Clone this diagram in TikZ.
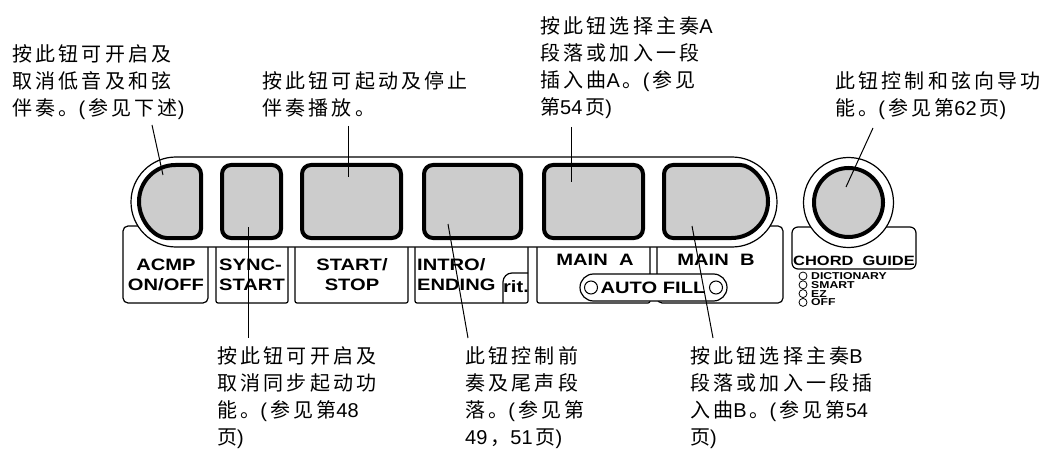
\documentclass[tikz,border=0pt]{standalone}
\usepackage{fontspec}
\setmainfont{Liberation Sans}
\newfontfamily\cjk{Noto Sans CJK SC}[LetterSpace=16]
\newfontfamily\panelfont{Liberation Sans}[FakeStretch=1.22]
\newcommand{\lat}[1]{{\rmfamily #1}\kern3pt}
\usepackage{tikz}
\usetikzlibrary{positioning, shapes.misc}
\definecolor{ButtonGray}{RGB}{204, 204, 204}

\begin{document}
\begin{tikzpicture}[
  x=1pt, y=-1pt,
  button/.style = {
    rectangle, rounded corners=9pt,
    minimum width=99pt, minimum height=73pt,
    inner sep=0pt, outer sep=0pt,
    draw, line width=4pt, fill=ButtonGray
  },
  dbutton/.style = {draw, line width=4pt, fill=ButtonGray},
  labelbox/.style = {draw, line width=1.2pt, fill=white},
  note/.style = {
    font=\fontsize{20}{27}\cjk, align=left,
    anchor=north west, inner sep=0pt
  },
  keytext/.style = {font=\panelfont\bfseries\fontsize{16.5}{20}\selectfont, inner sep=0pt},
  ledtext/.style = {font=\panelfont\bfseries\fontsize{10}{9}\selectfont, inner sep=0pt, anchor=west},
  leader/.style = {line width=1pt}
]
\useasboundingbox (0,0) rectangle (1049,449);

% Label boxes under the panel
\draw[labelbox, rounded corners=5pt] (123,226) rectangle (208,303);
\draw[labelbox, rounded corners=2pt] (216,235) rectangle (288,303);
\draw[labelbox, rounded corners=2pt] (295,235) rectangle (408,303);
\draw[labelbox, rounded corners=2pt] (415,235) rectangle (528,303);
\draw[labelbox, rounded corners=2pt] (537,235) rectangle (650,303);
\draw[labelbox, rounded corners=5pt] (657,226) rectangle (783,303);
\draw[labelbox, rounded corners=6pt] (792,227) rectangle (916,269);

% Panel
\node[rounded rectangle, draw, line width=1.2pt, fill=white,
  minimum width=646pt, minimum height=90pt, inner sep=0pt] (panel) at (454,202) {};

% Buttons
\draw[dbutton] (175.5,238) arc[start angle=90, end angle=270, radius=36.5]
  [rounded corners=9pt] -- (201,165) -- (201,238) -- cycle;
\coordinate (acmpbtn) at (170,201.5);
\node[button, minimum width=59pt] (syncbtn) at (251.5,201.5) {};
\node[button] (startbtn) at (351.5,201.5) {};
\node[button, minimum width=97pt] (introbtn) at (472.5,201.5) {};
\node[button] (mainabtn) at (593.5,201.5) {};
\draw[dbutton] (731.5,165) arc[start angle=270, end angle=450, radius=36.5]
  [rounded corners=9pt] -- (664,238) -- (664,165) -- cycle;
\coordinate (mainbbtn) at (716,201.5);

% Chord guide
\node[circle, draw, line width=1.2pt, fill=white, minimum size=90pt,
  inner sep=0pt] (chordring) at (848.5,202.5) {};
\node[button, circle, minimum size=69pt] (chordbtn) at (848.5,202.5) {};

% Key labels
\node[keytext, align=center] (acmplabel) at (166,275) {ACMP\\ON/OFF};
\node[keytext, align=left, anchor=west] (synclabel) at (219,275) {SYNC-\\START};
\node[keytext, align=center] (startlabel) at (352,275) {START/\\STOP};
\node[keytext, align=left, anchor=west] (introlabel) at (417,275) {INTRO/\\ENDING};
\draw[line width=1.2pt, rounded corners=9pt] (528,273) -- (503,273) -- (503,303);
\node[keytext] (ritlabel) at (516,287) {rit.};
\node[keytext] (mainalabel) at (595,260) {MAIN\ \ A};
\node[keytext] (mainblabel) at (716,260) {MAIN\ \ B};

% Auto fill
\node[rounded rectangle, draw, line width=1.2pt, fill=white,
  minimum width=147pt, minimum height=27pt, inner sep=0pt] (autofill) at (653.5,287.5) {};
\node[circle, draw, line width=1pt, minimum size=13pt, inner sep=0pt] (fillleda) at (591,287.5) {};
\node[circle, draw, line width=1pt, minimum size=13pt, inner sep=0pt] (filledb) at (716,287.5) {};
\node[keytext] (autofilllabel) at (653,287.5) {AUTO FILL};

\node[keytext, font=\panelfont\bfseries\fontsize{13.5}{16}\selectfont] (chordlabel) at (854,261) {CHORD\ \ GUIDE};
\foreach \y/\mode in {276/DICTIONARY, 284.8/SMART, 293.6/EZ, 302.4/OFF} {
  \node[circle, draw, line width=0.8pt, minimum size=8pt, inner sep=0pt] (led\mode) at (803,\y) {};
  \node[ledtext] (mode\mode) at (811,\y) {\mode};
}

% Notes above
\node[note] (acmptext) at (12,44) {按此钮可开启及\\取消低音及和弦\\伴奏。\lat{(}参见下述\lat{)}};
\node[note] (starttext) at (262,71) {按此钮可起动及停止\\伴奏播放。};
\node[note] (mainatext) at (540,16) {按此钮选择主奏\lat{A}\\段落或加入一段\\插入曲\lat{A}。\lat{(}参见\\第\lat{54}页\lat{)}};
\node[note] (chordtext) at (835,71) {此钮控制和弦向导功\\能。\lat{(}参见第\lat{62}页\lat{)}};

% Notes below
\node[note] (synctext) at (217,346) {按此钮可开启及\\取消同步起动功\\能。\lat{(}参见第\lat{48}\\页\lat{)}};
\node[note] (introtext) at (465,346) {此钮控制前\\奏及尾声段\\落。\lat{(}参见第\\\lat{49}，\lat{51}页\lat{)}};
\node[note] (mainbtext) at (690,346) {按此钮选择主奏\lat{B}\\段落或加入一段插\\入曲\lat{B}。\lat{(}参见第\lat{54}\\页\lat{)}};

% Leaders
\coordinate (acmpfrom) at (152,125);
\coordinate (startfrom) at (348,126);
\coordinate (mainafrom) at (571,127);
\coordinate (chordfrom) at (873,128);
\coordinate (syncto) at (248,338);
\coordinate (introto) at (468,338);
\coordinate (mainbto) at (713,338);

\draw[leader] (acmpfrom) -- ([xshift=-7pt, yshift=26.5pt]acmpbtn);
\draw[leader] (startfrom) -- ([xshift=-3.5pt, yshift=24.5pt]startbtn.center);
\draw[leader] (mainafrom) -- ([xshift=-22.5pt, yshift=19.5pt]mainabtn.center);
\draw[leader] (chordfrom) -- ([xshift=-2.5pt, yshift=15.5pt]chordbtn.center);
\draw[leader] ([xshift=-3.5pt, yshift=-25.5pt]syncbtn.center) -- (syncto);
\draw[leader] ([xshift=-24.5pt, yshift=-22.5pt]introbtn.center) -- (introto);
\draw[leader] ([xshift=-24pt, yshift=-24.5pt]mainbbtn) -- (mainbto);

\end{tikzpicture}
\end{document}
